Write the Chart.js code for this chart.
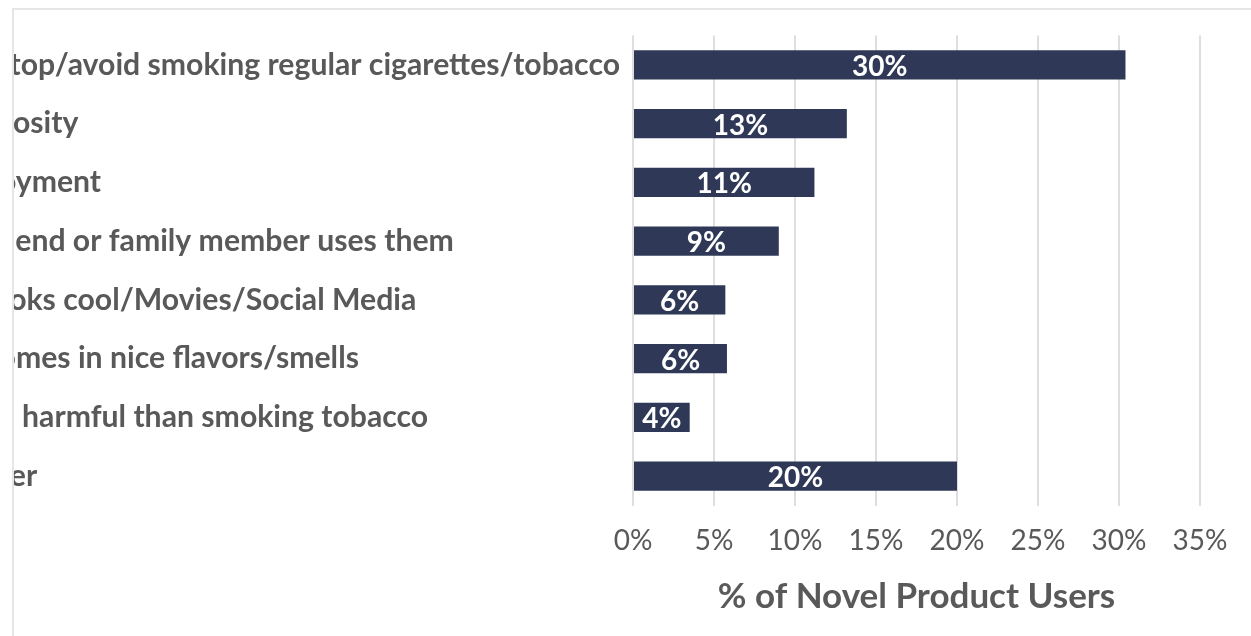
<!DOCTYPE html>
<html>
<head>
<meta charset="utf-8">
<script src="https://cdn.jsdelivr.net/npm/chart.js@4.4.0/dist/chart.umd.min.js"></script>
<style>
  html, body { margin: 0; padding: 0; background: #fff; overflow: hidden; }
  #frame {
    position: absolute; left: 12px; top: 8px; width: 1239px; height: 628px;
    border-left: 2px solid #e6e6e6; border-top: 2px solid #e6e6e6;
    box-sizing: border-box; overflow: hidden;
  }
  #box { position: absolute; left: -94px; top: 0; width: 1331px; height: 626px; }
</style>
</head>
<body>
<div id="frame"><div id="box"><canvas id="grafico"></canvas></div></div>
<script>
const reasons = [
  "To stop/avoid smoking regular cigarettes/tobacco",
  "Curiosity",
  "Enjoyment",
  "A friend or family member uses them",
  "It looks cool/Movies/Social Media",
  "It comes in nice flavors/smells",
  "Less harmful than smoking tobacco",
  "Other"
];
const shares = [30.4, 13.2, 11.2, 9.0, 5.7, 5.8, 3.5, 20.0];
const shareLabels = ["30%", "13%", "11%", "9%", "6%", "6%", "4%", "20%"];
const xTickValues = [0, 5, 10, 15, 20, 25, 30, 35];
const axisTitle = "% of Novel Product Users";

const FONT = "Lato";
const GREY = "#595959";
const BAR = "#2f3857";

// the category labels are cut on the left by the frame, as in the source
const labelSize = 30.2;
const m = document.createElement("canvas").getContext("2d");
m.font = "bold " + labelSize + "px " + FONT;
const firstWidth = m.measureText(reasons[0]).width;
const plotLeft = 713;
const padLeft = Math.max(0, 700 - firstWidth);

const barLabels = {
  id: "barLabels",
  afterDatasetsDraw(chart) {
    const ctx = chart.ctx;
    ctx.save();
    ctx.font = "bold 28px " + FONT;
    ctx.fillStyle = "#ffffff";
    ctx.textAlign = "center";
    ctx.textBaseline = "middle";
    chart.getDatasetMeta(0).data.forEach((bar, i) => {
      ctx.fillText(shareLabels[i], (bar.x + bar.base) / 2, bar.y + 2);
    });
    ctx.restore();
  }
};

new Chart(document.getElementById("grafico"), {
  type: "bar",
  data: {
    labels: reasons,
    datasets: [{
      data: shares,
      backgroundColor: BAR,
      borderWidth: 0,
      barPercentage: 0.5,
      categoryPercentage: 1.0
    }]
  },
  options: {
    indexAxis: "y",
    responsive: true,
    maintainAspectRatio: false,
    animation: false,
    layout: { padding: { left: padLeft, right: 51, top: 25.5, bottom: 0 } },
    plugins: { legend: { display: false }, tooltip: { enabled: false } },
    scales: {
      x: {
        min: 0, max: 35,
        afterBuildTicks: (s) => { s.ticks = xTickValues.map(v => ({ value: v })); },
        afterFit: (s) => { s.height = 130.5; },
        border: { display: false },
        grid: { color: "#dedede", lineWidth: 2, drawTicks: false },
        ticks: {
          padding: 19,
          color: GREY,
          font: { family: FONT, size: 28 },
          callback: (v) => v + "%"
        },
        title: {
          display: true,
          text: axisTitle,
          color: GREY,
          font: { family: FONT, size: 35, weight: "bold" },
          padding: { top: 0, bottom: 18 }
        }
      },
      y: {
        afterFit: (s) => { s.width = plotLeft - padLeft; },
        border: { display: false },
        grid: { display: false, drawTicks: false },
        ticks: {
          crossAlign: "far",
          color: GREY,
          font: { family: FONT, size: labelSize, weight: "bold" }
        }
      }
    }
  },
  plugins: [barLabels]
});
</script>
</body>
</html>
